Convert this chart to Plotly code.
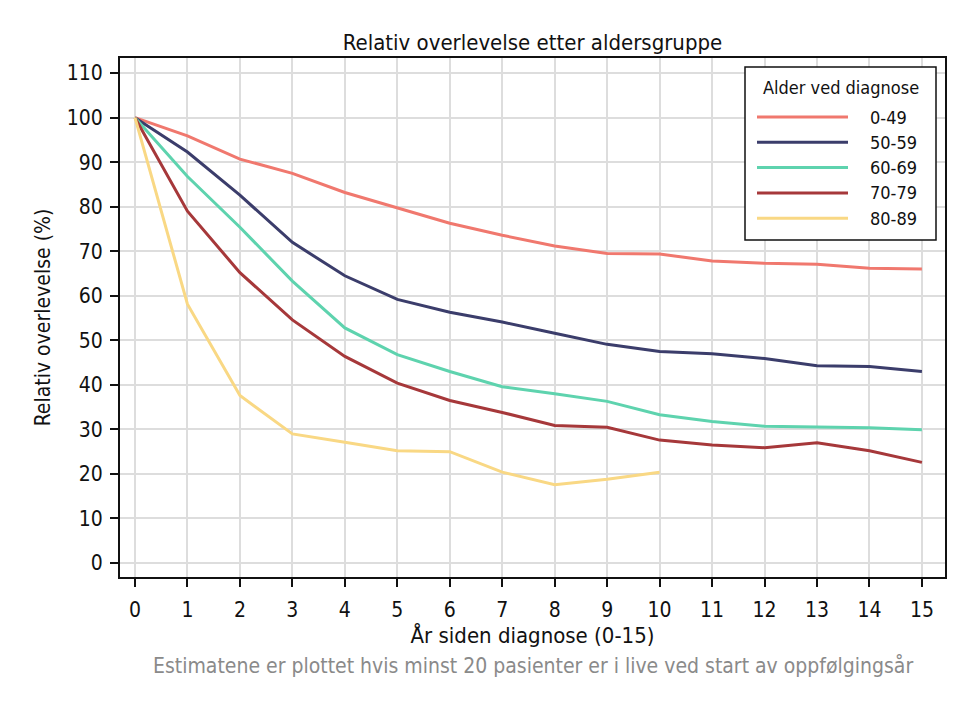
import plotly.graph_objects as go

years = list(range(16))
groups = ["0-49", "50-59", "60-69", "70-79", "80-89"]
s_0_49 = [100, 95.9, 90.7, 87.5, 83.2, 79.8, 76.3, 73.6, 71.2, 69.5, 69.4, 67.8, 67.3, 67.1, 66.2, 66.0]
s_50_59 = [100, 92.3, 82.6, 72.0, 64.5, 59.2, 56.3, 54.1, 51.6, 49.1, 47.5, 47.0, 45.9, 44.3, 44.1, 43.0]
s_60_69 = [100, 86.8, 75.4, 63.3, 52.8, 46.8, 43.0, 39.6, 38.0, 36.3, 33.3, 31.8, 30.7, 30.5, 30.4, 29.9]
s_70_79 = [100, 79.0, 65.2, 54.6, 46.4, 40.4, 36.5, 33.8, 30.9, 30.5, 27.6, 26.5, 25.9, 27.0, 25.2, 22.6]
s_80_89 = [100, 58.1, 37.6, 29.0, 27.1, 25.2, 25.0, 20.4, 17.6, 18.8, 20.4]
series = [s_0_49, s_50_59, s_60_69, s_70_79, s_80_89]
colors = ["#F0786E", "#3B3D6B", "#5ED3AE", "#A6383A", "#F9D884"]
yticks = list(range(0, 111, 10))

FONT = "DejaVu Sans Condensed, sans-serif"

# plot area in pixels
PL, PR, PT, PB = 120, 945, 58, 577
PW, PH = PR - PL, PB - PT

def fx(x):
    return (x - PL) / PW

def fy(y):
    return (PB - y) / PH

fig = go.Figure()
for name, vals, col in zip(groups, series, colors):
    fig.add_trace(go.Scatter(x=years[:len(vals)], y=vals, mode="lines", name=name,
                             line=dict(color=col, width=3), showlegend=False))

fig.update_layout(
    width=970, height=706,
    margin=dict(l=PL, r=970 - PR, t=PT, b=706 - PB),
    paper_bgcolor="white", plot_bgcolor="white",
    font=dict(family=FONT, color="#111111", size=21),
    title=dict(text="Relativ overlevelse etter aldersgruppe", x=0.5, xref="paper",
               y=1 - 42 / 706, yanchor="middle", font=dict(size=22, color="#111111")),
    xaxis=dict(range=[-0.286, 15.44], tickmode="array", tickvals=years,
               showline=True, linecolor="#111111", linewidth=2, mirror=True,
               ticks="outside", ticklen=8, tickwidth=1.5, tickcolor="#111111",
               ticklabelstandoff=5,
               showgrid=True, gridcolor="#DDDDDD", gridwidth=2, zeroline=False,
               tickfont=dict(size=21),
               title=dict(text="År siden diagnose (0-15)", standoff=0, font=dict(size=22))),
    yaxis=dict(range=[-3.14, 113.4], tickmode="array", tickvals=yticks,
               showline=True, linecolor="#111111", linewidth=2, mirror=True,
               ticks="outside", ticklen=8, tickwidth=1.5, tickcolor="#111111",
               ticklabelstandoff=3,
               showgrid=True, gridcolor="#DDDDDD", gridwidth=2, zeroline=False,
               tickfont=dict(size=21),
               title=dict(text="Relativ overlevelse (%)", standoff=10, font=dict(size=21))),
)

# legend drawn with paper-coordinate shapes
lx0, lx1, ly0, ly1 = 745, 936, 67, 240
fig.add_shape(type="rect", xref="paper", yref="paper",
              x0=fx(lx0), x1=fx(lx1), y0=fy(ly1), y1=fy(ly0),
              line=dict(color="#111111", width=1.5), fillcolor="white", layer="above")
fig.add_annotation(xref="paper", yref="paper", x=fx((lx0 + lx1) / 2),
                   y=fy(88), text="Alder ved diagnose", showarrow=False,
                   xanchor="center", yanchor="middle", font=dict(size=18, color="#111111"))
for i, (name, col) in enumerate(zip(groups, colors)):
    yy = 117 + i * 25.3
    fig.add_shape(type="line", xref="paper", yref="paper",
                  x0=fx(757), x1=fx(848), y0=fy(yy), y1=fy(yy),
                  line=dict(color=col, width=3), layer="above")
    fig.add_annotation(xref="paper", yref="paper", x=fx(868),
                       y=fy(yy), text=name, showarrow=False,
                       xanchor="left", yanchor="middle", font=dict(size=18, color="#111111"))

fig.add_annotation(xref="paper", yref="paper", x=0.5, y=fy(665),
                   text="Estimatene er plottet hvis minst 20 pasienter er i live ved start av oppfølgingsår",
                   showarrow=False, xanchor="center", yanchor="middle",
                   font=dict(size=21, color="#8A8A8A"))

fig.write_html("out.html")
